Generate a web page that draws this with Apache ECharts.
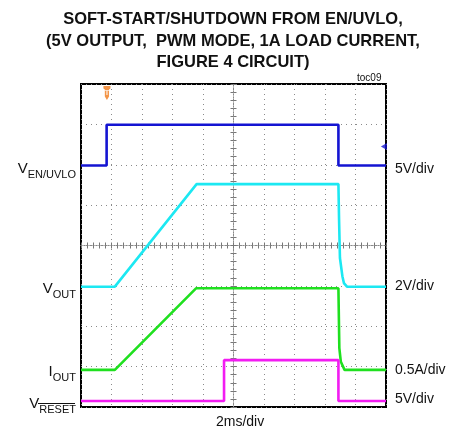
<!DOCTYPE html>
<html><head><meta charset="utf-8">
<script src="https://cdn.jsdelivr.net/npm/echarts@6/dist/echarts.min.js"></script>
<style>html,body{margin:0;padding:0;background:#fff}#c{width:461px;height:430px}</style>
</head><body><div id="c"></div>
<script>
// Time in divisions (2 ms/div), vertical position in scope divisions (0 = bottom)
var enTime   = [0, 0.84, 0.84, 8.44, 8.44, 10];
var enVal    = [5.98, 5.98, 6.99, 6.99, 5.98, 5.98];
var voutTime = [0, 1.11, 3.79, 8.44, 8.46, 8.49, 8.57, 8.62, 8.72, 10];
var voutVal  = [2.98, 2.98, 5.52, 5.52, 4.68, 3.69, 3.24, 3.07, 2.98, 2.98];
var ioutTime = [0, 1.11, 3.77, 8.44, 8.47, 8.52, 8.64, 10];
var ioutVal  = [0.92, 0.92, 2.94, 2.94, 1.46, 1.12, 0.92, 0.92];
var rstTime  = [0, 4.69, 4.69, 8.44, 8.44, 10];
var rstVal   = [0.15, 0.15, 1.16, 1.16, 0.15, 0.15];
var triggerMark = [[0.85, 7.78]];
var groundMark = [[9.93, 6.45]];
var titleLines = ['SOFT-START/SHUTDOWN FROM EN/UVLO,', '(5V OUTPUT,  PWM MODE, 1A LOAD CURRENT,', 'FIGURE 4 CIRCUIT)'];
var scaleLabels = ['5V/div', '2V/div', '0.5A/div', '5V/div'];

function pairs(t, v){ return t.map(function(x,i){return [x, v[i]];}); }

var chart = echarts.init(document.getElementById('c'), null, {renderer:'canvas'});
var G = {left:81, top:84, width:305, height:323};
var dotted = {color:'#8a8a8a', width:1, type:[1,4]};
var fontF = 'Liberation Sans, Arial, sans-serif';

function centerX(pos){
  return {type:'value', gridIndex:0, min:0, max:10, interval:1, position:pos, offset:-161.5,
    axisLine:{show:true, lineStyle:{color:'#8a8a8a', width:1, type:[1,2]}},
    axisTick:{show:true, inside:true, length:3, lineStyle:{color:'#777'}},
    minorTick:{show:true, splitNumber:5, length:3, lineStyle:{color:'#777'}},
    axisLabel:{show:false}, splitLine:{show:false}};
}
function centerY(pos){
  return {type:'value', gridIndex:0, min:0, max:8, interval:1, position:pos, offset:-152.5,
    axisLine:{show:true, lineStyle:{color:'#8a8a8a', width:1, type:[1,2]}},
    axisTick:{show:true, inside:true, length:3, lineStyle:{color:'#777'}},
    minorTick:{show:true, splitNumber:5, length:3, lineStyle:{color:'#777'}},
    axisLabel:{show:false}, splitLine:{show:false}};
}

function lineSeries(t, v, color){
  return {type:'line', xAxisIndex:0, yAxisIndex:0, data:pairs(t,v), showSymbol:false, symbol:'none',
    lineStyle:{color:color, width:2.6}, animation:false, z:5};
}

var graphics = [];
var titleY = [19.5, 41, 62];
titleLines.forEach(function(s, i){
  graphics.push({type:'text', x:233, y:titleY[i], scaleX:0.97, originX:0, originY:0,
    style:{text:s, font:'bold 17px '+fontF, fill:'#111', textAlign:'center', textVerticalAlign:'middle'}});
});
graphics.push({type:'text', left:357, top:73, style:{text:'toc09', font:'10px '+fontF, fill:'#111'}});
graphics.push({type:'text', left:216, top:415, style:{text:'2ms/div', font:'14px '+fontF, fill:'#111'}});
// left labels (right-aligned at x=76)
function leftLabel(main, sub, yTop){
  graphics.push({type:'text', x:76, y:yTop, style:{
    text:'{m|'+main+'}{s|'+sub+'}', textAlign:'right', textVerticalAlign:'top',
    rich:{m:{font:'15px '+fontF, fill:'#111', verticalAlign:'top', padding:[0,0,4,0]},
          s:{font:'11px '+fontF, fill:'#111', verticalAlign:'bottom', padding:[6,0,0,0]}}}});
}
leftLabel('V','EN/UVLO',161);
leftLabel('V','OUT',281);
leftLabel('I','OUT',364);
leftLabel('V','RESET',396);
graphics.push({type:'line', shape:{x1:38, y1:403.5, x2:75, y2:403.5}, style:{stroke:'#111', lineWidth:1}});
var rY = [169, 286, 370, 399];
scaleLabels.forEach(function(s,i){
  graphics.push({type:'text', x:395, y:rY[i], style:{text:s, font:'14px '+fontF, fill:'#111', textVerticalAlign:'middle'}});
});

var option = {
  animation:false,
  backgroundColor:'#fff',
  grid:[{left:G.left, top:G.top, width:G.width, height:G.height, show:true, borderColor:'#000', borderWidth:2, backgroundColor:'#fff', z:0}],
  xAxis:[
    {type:'value', gridIndex:0, min:0, max:10, interval:1, axisLine:{show:false}, axisTick:{show:false}, axisLabel:{show:false}, splitLine:{show:true, lineStyle:dotted}},
    centerX('bottom'), centerX('top')
  ],
  yAxis:[
    {type:'value', gridIndex:0, min:0, max:8, interval:1, axisLine:{show:false}, axisTick:{show:false}, axisLabel:{show:false}, splitLine:{show:true, lineStyle:dotted}},
    centerY('left'), centerY('right')
  ],
  series:[
    lineSeries(enTime, enVal, '#1414d2'),
    lineSeries(voutTime, voutVal, '#1ce8f2'),
    lineSeries(ioutTime, ioutVal, '#1fe01f'),
    lineSeries(rstTime, rstVal, '#f21cf2'),
    {type:'scatter', data:triggerMark, symbol:'path://M0,0 L10,0 L10,3 L8,4 L8,12 L5,16 L2,12 L2,4 L0,3 Z', symbolSize:[7,14],
     itemStyle:{color:'#f07a1a'}, label:{show:true, formatter:'T', color:'#fff', fontSize:8, fontWeight:'bold', position:'inside'}, z:6},
    {type:'scatter', data:groundMark, symbol:'triangle', symbolRotate:90, symbolSize:[7,6], itemStyle:{color:'#1414d2'}, z:6}
  ],
  graphic:graphics
};
chart.setOption(option);
</script></body></html>
